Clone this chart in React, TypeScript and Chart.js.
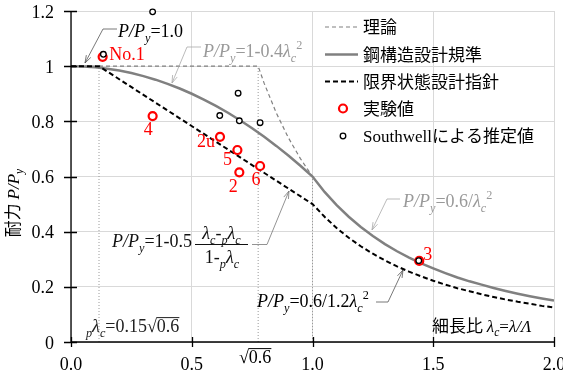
import React, { useEffect, useRef } from "react";
import { Chart, registerables } from "chart.js";
Chart.register(...registerables);

// ---------- data ----------
const lambdaStd = [0, 0.05, 0.1, 0.15, 0.2, 0.25, 0.3, 0.35, 0.4, 0.45, 0.5, 0.55, 0.6, 0.65, 0.7, 0.75, 0.8, 0.85, 0.9, 0.95, 1.0, 1.05, 1.1, 1.15, 1.2, 1.25, 1.3, 1.35, 1.4, 1.45, 1.5, 1.55, 1.6, 1.65, 1.7, 1.75, 1.8, 1.85, 1.9, 1.95, 2.0];
const valuesStd = [1, 0.999, 0.996, 0.991, 0.984, 0.975, 0.964, 0.951, 0.936, 0.919, 0.9, 0.879, 0.856, 0.831, 0.804, 0.775, 0.744, 0.711, 0.676, 0.639, 0.6, 0.544, 0.496, 0.454, 0.417, 0.384, 0.355, 0.329, 0.306, 0.285, 0.267, 0.25, 0.234, 0.22, 0.208, 0.196, 0.185, 0.175, 0.166, 0.158, 0.15];

const lambdaLimit = [0, 0.116, 1.0, 1.05, 1.1, 1.15, 1.2, 1.25, 1.3, 1.35, 1.4, 1.45, 1.5, 1.55, 1.6, 1.65, 1.7, 1.75, 1.8, 1.85, 1.9, 1.95, 2.0];
const valuesLimit = [1, 1, 0.5, 0.454, 0.413, 0.378, 0.347, 0.32, 0.296, 0.274, 0.255, 0.238, 0.222, 0.208, 0.195, 0.184, 0.173, 0.163, 0.154, 0.146, 0.139, 0.131, 0.125];

const lambdaTheory = [0, 0.775, 0.8, 0.85, 0.9, 0.95, 1.0];
const valuesTheory = [1, 1, 0.9375, 0.8304, 0.7407, 0.6648, 0.6];

const testLabels = ["No.1", "4", "2u", "5", "2", "6", "3"];
const testLambda = [0.131, 0.338, 0.617, 0.689, 0.697, 0.783, 1.442];
const testValues = [1.034, 0.819, 0.744, 0.696, 0.615, 0.638, 0.294];

const southwellLambda = [0.134, 0.338, 0.616, 0.692, 0.697, 0.783, 1.44];
const southwellValues = [1.043, 1.197, 0.821, 0.902, 0.802, 0.795, 0.295];

const guideLambda = [0.116, 0.775, 1.0];
const guideTop = [1.0, 1.0, 0.6];

const xTickValues = [0, 0.5, 1.0, 1.5, 2.0];
const xTickLabels = ["0.0", "0.5", "1.0", "1.5", "2.0"];
const yTickValues = [0, 0.2, 0.4, 0.6, 0.8, 1.0, 1.2];
const yTickLabels = ["0", "0.2", "0.4", "0.6", "0.8", "1", "1.2"];

const legendLabels = ["理論", "鋼構造設計規準", "限界状態設計指針", "実験値", "Southwellによる推定値"];

// label offsets (px) relative to each test point
const testLabelOffsets: [number, number, string][] = [
  [6.5, 3.5, "left"],
  [-4.5, 19, "center"],
  [-5, 10.5, "right"],
  [-10, 15, "center"],
  [-6, 20, "center"],
  [-4, 19, "center"],
  [4, -1, "left"],
];

// ---------- drawing helpers ----------
const SERIF = '"Liberation Serif", "Noto Sans CJK JP", serif';
const CJK = '"Noto Sans CJK JP", "Liberation Serif", sans-serif';

type Part = { t: string; i?: boolean; s?: "sub" | "sup"; o?: boolean; cjk?: boolean; c?: string };

function partFont(p: Part, size: number) {
  const sz = p.s ? size * 0.68 : size;
  return `${p.i ? "italic " : ""}${sz}px ${p.cjk ? CJK : SERIF}`;
}
function richWidth(ctx: CanvasRenderingContext2D, parts: Part[], size: number) {
  let w = 0;
  for (const p of parts) {
    ctx.font = partFont(p, size);
    w += ctx.measureText(p.t).width;
  }
  return w;
}
function drawRich(ctx: CanvasRenderingContext2D, x: number, y: number, parts: Part[], size: number, color: string, align = "left") {
  ctx.save();
  const w = richWidth(ctx, parts, size);
  let cx = align === "left" ? x : align === "center" ? x - w / 2 : x - w;
  ctx.textAlign = "left";
  ctx.textBaseline = "alphabetic";
  for (const p of parts) {
    ctx.font = partFont(p, size);
    const pw = ctx.measureText(p.t).width;
    const dy = p.s === "sub" ? size * 0.25 : p.s === "sup" ? -size * 0.42 : 0;
    ctx.fillStyle = p.c || color;
    ctx.fillText(p.t, cx, y + dy);
    if (p.o) {
      ctx.strokeStyle = p.c || color;
      ctx.lineWidth = 1;
      ctx.beginPath();
      ctx.moveTo(cx - 0.5, y - size * 0.8);
      ctx.lineTo(cx + pw, y - size * 0.8);
      ctx.stroke();
    }
    cx += pw;
  }
  ctx.restore();
}
function leader(ctx: CanvasRenderingContext2D, pts: number[][], color: string) {
  ctx.save();
  ctx.strokeStyle = color;
  ctx.lineWidth = 0.8;
  ctx.setLineDash([]);
  ctx.beginPath();
  pts.forEach(([x, y], i) => (i ? ctx.lineTo(x, y) : ctx.moveTo(x, y)));
  ctx.stroke();
  const [x1, y1] = pts[pts.length - 2];
  const [x2, y2] = pts[pts.length - 1];
  const a = Math.atan2(y2 - y1, x2 - x1);
  const L = 8, s = 0.32;
  ctx.beginPath();
  ctx.moveTo(x2 - L * Math.cos(a - s), y2 - L * Math.sin(a - s));
  ctx.lineTo(x2, y2);
  ctx.lineTo(x2 - L * Math.cos(a + s), y2 - L * Math.sin(a + s));
  ctx.stroke();
  ctx.restore();
}

const PPy: Part[] = [{ t: "P/P", i: true }, { t: "y", i: true, s: "sub" }];
const lc: Part[] = [{ t: "λ", i: true }, { t: "c", i: true, s: "sub" }];
const plc: Part[] = [{ t: "p", i: true, s: "sub" }, { t: "λ", i: true }, { t: "c", i: true, s: "sub" }];

const overlayPlugin = {
  id: "overlay",
  afterDraw(chart: any) {
    const ctx: CanvasRenderingContext2D = chart.ctx;
    const xs = chart.scales.x;
    const ys = chart.scales.y;
    const ca = chart.chartArea;
    ctx.save();
    // axes
    ctx.strokeStyle = "#000";
    ctx.lineWidth = 1.3;
    ctx.setLineDash([]);
    ctx.beginPath();
    ctx.moveTo(ca.left, ca.top);
    ctx.lineTo(ca.left, ca.bottom);
    ctx.moveTo(ca.left, ca.bottom);
    ctx.lineTo(ca.right, ca.bottom);
    ctx.stroke();
    ctx.beginPath();
    yTickValues.forEach((v) => {
      const py = Math.round(ys.getPixelForValue(v)) + 0.5;
      ctx.moveTo(ca.left - 7, py);
      ctx.lineTo(ca.left + 6, py);
    });
    xTickValues.forEach((v) => {
      const px = Math.round(xs.getPixelForValue(v)) + 0.5;
      ctx.moveTo(px, ca.bottom - 5);
      ctx.lineTo(px, ca.bottom + 5);
    });
    ctx.stroke();

    // tick labels
    yTickValues.forEach((v, i) => {
      drawRich(ctx, ca.left - 17, ys.getPixelForValue(v) + 6.5, [{ t: yTickLabels[i] }], 18, "#000", "right");
    });
    xTickValues.forEach((v, i) => {
      drawRich(ctx, xs.getPixelForValue(v), ca.bottom + 28, [{ t: xTickLabels[i] }], 18, "#000", "center");
    });
    // sqrt(0.6) tick label
    drawRich(ctx, xs.getPixelForValue(0.775) - 3, ca.bottom + 21, [{ t: "√" }, { t: "0.6", o: true }], 18, "#000", "center");

    // y title (rotated)
    ctx.save();
    ctx.translate(19, 203);
    ctx.rotate(-Math.PI / 2);
    drawRich(ctx, 0, 0, [{ t: "耐力 ", cjk: true }, ...PPy], 17, "#000", "center");
    ctx.restore();

    // annotations
    drawRich(ctx, 118, 37, [...PPy, { t: "=1.0" }], 18, "#000");
    leader(ctx, [[117, 29], [103, 29], [85, 63]], "#555");

    drawRich(ctx, 203, 57, [...PPy, { t: "=1-0.4" }, ...lc, { t: "2", s: "sup" }], 18, "#999");
    leader(ctx, [[201, 47], [187, 47], [172, 83]], "#aaa");

    drawRich(ctx, 112, 247, [...PPy, { t: "=1-0.5" }], 18, "#111");
    drawRich(ctx, 221.5, 239, [...lc, { t: "-" }, ...plc], 18, "#111", "center");
    ctx.strokeStyle = "#111";
    ctx.lineWidth = 1;
    ctx.beginPath();
    ctx.moveTo(195, 244.5);
    ctx.lineTo(248, 244.5);
    ctx.stroke();
    drawRich(ctx, 222, 263, [{ t: "1-" }, ...plc], 18, "#111", "center");
    leader(ctx, [[252, 244.5], [267, 244.5], [289, 191]], "#777");

    drawRich(ctx, 403, 207, [...PPy, { t: "=0.6/" }, ...lc, { t: "2", s: "sup" }], 18, "#999");
    leader(ctx, [[400, 199], [387, 199], [372, 230]], "#aaa");

    drawRich(ctx, 257, 307, [...PPy, { t: "=0.6/1.2" }, ...lc, { t: "2", s: "sup" }], 18, "#000");
    leader(ctx, [[376, 302], [388, 302], [403, 270]], "#555");

    drawRich(ctx, 86, 332, [...plc, { t: "=0.15√" }, { t: "0.6", o: true }], 18, "#222");

    drawRich(ctx, 432, 332, [{ t: "細長比 ", cjk: true }, ...lc, { t: "=" }, { t: "λ/Λ", i: true }], 17, "#000");

    // point labels
    testLabels.forEach((lab, i) => {
      const px = xs.getPixelForValue(testLambda[i]);
      const py = ys.getPixelForValue(testValues[i]);
      const [dx, dy, al] = testLabelOffsets[i];
      drawRich(ctx, px + dx, py + dy, [{ t: lab }], 18, "#ff0000", al);
    });

    // legend
    const lx0 = 325, lx1 = 358, tx = 363;
    const rows = [27, 54.5, 81.5, 108.5, 136];
    ctx.lineWidth = 1.2;
    ctx.strokeStyle = "#808080";
    ctx.setLineDash([4, 3]);
    ctx.beginPath(); ctx.moveTo(lx0, rows[0]); ctx.lineTo(lx1, rows[0]); ctx.stroke();
    ctx.setLineDash([]);
    ctx.lineWidth = 2.5;
    ctx.beginPath(); ctx.moveTo(lx0, rows[1]); ctx.lineTo(lx1, rows[1]); ctx.stroke();
    ctx.strokeStyle = "#000";
    ctx.lineWidth = 2;
    ctx.setLineDash([5, 3]);
    ctx.beginPath(); ctx.moveTo(lx0, rows[2]); ctx.lineTo(lx1, rows[2]); ctx.stroke();
    ctx.setLineDash([]);
    ctx.fillStyle = "#fff";
    ctx.strokeStyle = "#ff0000";
    ctx.lineWidth = 2.2;
    ctx.beginPath(); ctx.arc(343, rows[3], 4, 0, Math.PI * 2); ctx.fill(); ctx.stroke();
    ctx.strokeStyle = "#000";
    ctx.lineWidth = 1.3;
    ctx.beginPath(); ctx.arc(343, rows[4], 2.8, 0, Math.PI * 2); ctx.fill(); ctx.stroke();
    legendLabels.forEach((t, i) => {
      drawRich(ctx, tx, rows[i] + 6, [{ t }], 17, "#000");
    });
    ctx.restore();
  },
};

function toXY(xs: number[], ys: number[]) {
  return xs.map((x, i) => ({ x, y: ys[i] }));
}

export default function App() {
  const ref = useRef<HTMLCanvasElement>(null);
  useEffect(() => {
    if (!ref.current) return;
    const guideSets = guideLambda.map((g, i) => ({
      label: "guide" + i,
      data: [{ x: g, y: 0 }, { x: g, y: guideTop[i] }],
      showLine: true,
      borderColor: "#9a9a9a",
      borderWidth: 1,
      borderDash: [1, 2],
      pointRadius: 0,
    }));
    const chart = new Chart(ref.current, {
      type: "scatter",
      data: {
        datasets: [
          {
            label: "Southwellによる推定値",
            data: toXY(southwellLambda, southwellValues),
            pointRadius: 2.8,
            borderWidth: 1.3,
            borderColor: "#000",
            backgroundColor: "#fff",
            clip: false,
          },
          {
            label: "実験値",
            data: toXY(testLambda, testValues),
            pointRadius: 4,
            borderWidth: 2.2,
            borderColor: "#ff0000",
            backgroundColor: "#fff",
            clip: false,
          },
          {
            label: "限界状態設計指針",
            data: toXY(lambdaLimit, valuesLimit),
            showLine: true,
            borderColor: "#000",
            borderWidth: 2,
            borderDash: [5, 3],
            pointRadius: 0,
          },
          {
            label: "鋼構造設計規準",
            data: toXY(lambdaStd, valuesStd),
            showLine: true,
            borderColor: "#808080",
            borderWidth: 2.5,
            pointRadius: 0,
          },
          {
            label: "理論",
            data: toXY(lambdaTheory, valuesTheory),
            showLine: true,
            borderColor: "#808080",
            borderWidth: 1.2,
            borderDash: [4, 3],
            pointRadius: 0,
          },
          ...guideSets,
        ],
      },
      options: {
        animation: false,
        responsive: false,
        devicePixelRatio: 1,
        layout: { padding: { left: 71, right: 9, top: 11, bottom: 36 } },
        plugins: { legend: { display: false }, tooltip: { enabled: false } },
        scales: {
          x: {
            type: "linear",
            min: 0,
            max: 2,
            ticks: { display: false, stepSize: 0.5 },
            grid: { color: "#d9d9d9", lineWidth: 1, drawTicks: false },
            border: { display: false },
            afterFit: (s: any) => { s.height = 0; },
          },
          y: {
            type: "linear",
            min: 0,
            max: 1.2,
            ticks: { display: false, stepSize: 0.2 },
            grid: { color: "#d9d9d9", lineWidth: 1, drawTicks: false },
            border: { display: false },
            afterFit: (s: any) => { s.width = 0; },
          },
        },
      } as any,
      plugins: [overlayPlugin],
    });
    return () => chart.destroy();
  }, []);
  return (
    <div style={{ position: "fixed", left: 0, top: 0, width: 563, height: 378, background: "#fff" }}>
      <canvas ref={ref} width={563} height={378} />
    </div>
  );
}
